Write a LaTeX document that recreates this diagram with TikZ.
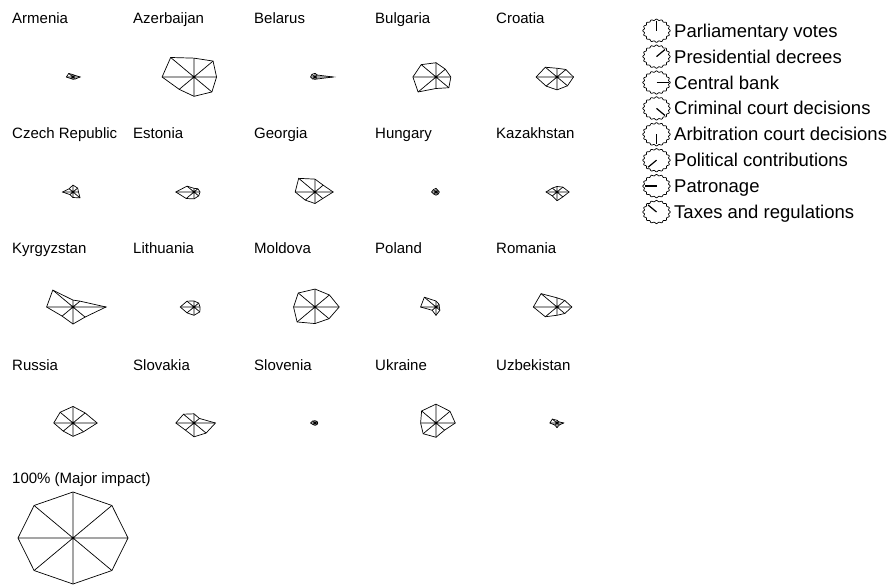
\documentclass[tikz,border=0pt]{standalone}
\usepackage{fontspec}
\setmainfont{Liberation Sans}
\usetikzlibrary{calc}
\tikzset{
  starline/.style={line width=0.7pt, line join=miter},
  lbl/.style={anchor=base west, inner sep=0pt, font=\fontsize{15}{17}\selectfont},
  legtext/.style={anchor=base west, inner sep=0pt, font=\fontsize{18.5}{20}\selectfont},
  keyline/.style={line width=0.7pt},
  keyspoke/.style={line width=1.2pt}
}
% #1 centre coordinate, #2..#9 values for the eight axes
\newcommand{\mystar}[9]{%
  \begin{scope}[shift={(#1)}, x=55pt, y=46pt]
    \draw[starline] (90:#2) -- (45:#3) -- (0:#4) -- (-45:#5) -- (-90:#6) -- (-135:#7) -- (180:#8) -- (135:#9) -- cycle;
    \draw[starline] (0,0) -- (90:#2) (0,0) -- (45:#3) (0,0) -- (0:#4) (0,0) -- (-45:#5)
      (0,0) -- (-90:#6) (0,0) -- (-135:#7) (0,0) -- (180:#8) (0,0) -- (135:#9);
  \end{scope}}
% legend key: #1 centre coordinate, #2 angle
\newcommand{\mykey}[2]{%
  \draw[keyline, shift={(#1)}] plot[samples=97, domain=0:360]
    ({13*(1+0.06*cos(16*\x))*cos(\x)}, {11*(1+0.06*cos(16*\x))*sin(\x)}) -- cycle;
  \draw[keyspoke, shift={(#1)}] (0,0) -- ({12*cos(#2)}, {10*sin(#2)});}
\begin{document}
\begin{tikzpicture}[x=1pt, y=1pt]
\useasboundingbox (0,0) rectangle (893,584);
% centres
\foreach \n/\cx/\cy in {
  armenia/73/507, azerbaijan/194/507, belarus/315/507, bulgaria/436/507, croatia/557/507,
  czech/73/392, estonia/194/392, georgia/315/392, hungary/436/392, kazakhstan/557/392,
  kyrgyzstan/73/277, lithuania/194/277, moldova/315/277, poland/436/277, romania/557/277,
  russia/73/161, slovakia/194/161, slovenia/315/161, ukraine/436/161, uzbekistan/557/161,
  full/73/46}
  {\coordinate (\n) at (\cx,\cy);}
% labels
\node[lbl] (l-armenia) at ($(armenia)+(-61,53)$) {Armenia};
\node[lbl] (l-azerbaijan) at ($(azerbaijan)+(-61,53)$) {Azerbaijan};
\node[lbl] (l-belarus) at ($(belarus)+(-61,53)$) {Belarus};
\node[lbl] (l-bulgaria) at ($(bulgaria)+(-61,53)$) {Bulgaria};
\node[lbl] (l-croatia) at ($(croatia)+(-61,53)$) {Croatia};
\node[lbl] (l-czech) at ($(czech)+(-61,53)$) {Czech Republic};
\node[lbl] (l-estonia) at ($(estonia)+(-61,53)$) {Estonia};
\node[lbl] (l-georgia) at ($(georgia)+(-61,53)$) {Georgia};
\node[lbl] (l-hungary) at ($(hungary)+(-61,53)$) {Hungary};
\node[lbl] (l-kazakhstan) at ($(kazakhstan)+(-61,53)$) {Kazakhstan};
\node[lbl] (l-kyrgyzstan) at ($(kyrgyzstan)+(-61,53)$) {Kyrgyzstan};
\node[lbl] (l-lithuania) at ($(lithuania)+(-61,53)$) {Lithuania};
\node[lbl] (l-moldova) at ($(moldova)+(-61,53)$) {Moldova};
\node[lbl] (l-poland) at ($(poland)+(-61,53)$) {Poland};
\node[lbl] (l-romania) at ($(romania)+(-61,53)$) {Romania};
\node[lbl] (l-russia) at ($(russia)+(-61,53)$) {Russia};
\node[lbl] (l-slovakia) at ($(slovakia)+(-61,53)$) {Slovakia};
\node[lbl] (l-slovenia) at ($(slovenia)+(-61,53)$) {Slovenia};
\node[lbl] (l-ukraine) at ($(ukraine)+(-61,53)$) {Ukraine};
\node[lbl] (l-uzbekistan) at ($(uzbekistan)+(-61,53)$) {Uzbekistan};
\node[lbl] (l-full) at ($(full)+(-61,55)$) {100\% (Major impact)};
% stars: Parl, Pres, CB, Crim, Arb, Pol, Patr, Tax
\mystar{armenia}{0.05}{0.05}{0.13}{0.06}{0.05}{0.05}{0.12}{0.11}
\mystar{azerbaijan}{0.41}{0.49}{0.41}{0.46}{0.42}{0.38}{0.58}{0.60}
\mystar{belarus}{0.08}{0.06}{0.33}{0.06}{0.05}{0.06}{0.08}{0.08}
\mystar{bulgaria}{0.31}{0.24}{0.27}{0.33}{0.25}{0.46}{0.42}{0.38}
\mystar{croatia}{0.19}{0.23}{0.30}{0.27}{0.28}{0.28}{0.38}{0.30}
\mystar{czech}{0.15}{0.12}{0.10}{0.18}{0.12}{0.08}{0.19}{0.10}
\mystar{estonia}{0.08}{0.10}{0.11}{0.12}{0.15}{0.20}{0.33}{0.18}
\mystar{georgia}{0.28}{0.21}{0.33}{0.20}{0.25}{0.25}{0.36}{0.42}
\mystar{hungary}{0.08}{0.05}{0.06}{0.06}{0.07}{0.06}{0.08}{0.07}
\mystar{kazakhstan}{0.12}{0.15}{0.22}{0.15}{0.19}{0.12}{0.20}{0.12}
\mystar{kyrgyzstan}{0.15}{0.18}{0.60}{0.31}{0.37}{0.28}{0.48}{0.52}
\mystar{lithuania}{0.13}{0.12}{0.11}{0.15}{0.18}{0.18}{0.25}{0.18}
\mystar{moldova}{0.39}{0.37}{0.44}{0.36}{0.36}{0.46}{0.39}{0.43}
\mystar{poland}{0.13}{0.08}{0.06}{0.10}{0.18}{0.10}{0.28}{0.30}
\mystar{romania}{0.20}{0.20}{0.27}{0.20}{0.18}{0.30}{0.43}{0.41}
\mystar{russia}{0.36}{0.31}{0.44}{0.27}{0.29}{0.25}{0.35}{0.33}
\mystar{slovakia}{0.20}{0.14}{0.39}{0.31}{0.30}{0.22}{0.33}{0.27}
\mystar{slovenia}{0.05}{0.05}{0.05}{0.05}{0.05}{0.05}{0.08}{0.06}
\mystar{ukraine}{0.41}{0.36}{0.35}{0.22}{0.31}{0.33}{0.28}{0.37}
\mystar{uzbekistan}{0.06}{0.04}{0.12}{0.06}{0.10}{0.06}{0.13}{0.12}
\mystar{full}{1}{1}{1}{1}{1}{1}{1}{1}
% legend
\foreach \i/\a/\t in {0/90/Parliamentary votes, 1/45/Presidential decrees, 2/0/Central bank,
  3/-45/Criminal court decisions, 4/-90/Arbitration court decisions,
  5/-135/Political contributions, 6/180/Patronage, 7/135/Taxes and regulations} {
  \coordinate (k\i) at (656.5, {553.3-25.9*\i});
  \mykey{k\i}{\a}
  \node[legtext] (t\i) at (674, {546.7-25.9*\i}) {\t};
}
\end{tikzpicture}
\end{document}
